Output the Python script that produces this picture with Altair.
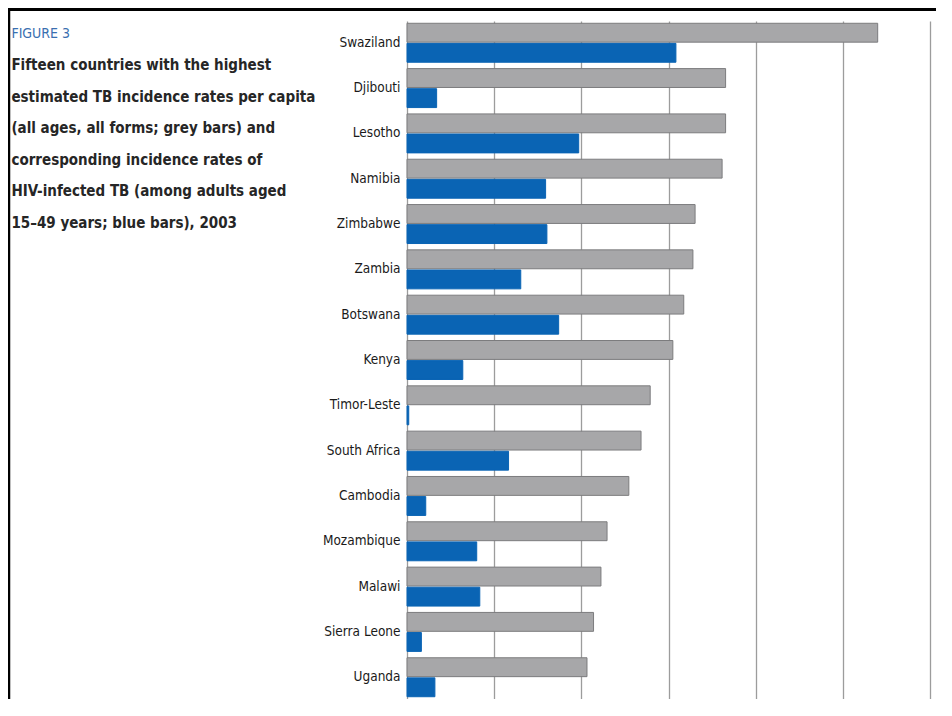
import altair as alt
import pandas as pd

countries = ["Swaziland", "Djibouti", "Lesotho", "Namibia", "Zimbabwe", "Zambia",
             "Botswana", "Kenya", "Timor-Leste", "South Africa", "Cambodia",
             "Mozambique", "Malawi", "Sierra Leone", "Uganda"]
tb_all = [1080, 731, 731, 723, 661, 656, 635, 610, 558, 537, 509, 459, 445, 428, 413]
tb_hiv = [617, 68, 394, 318, 321, 261, 348, 128, 4, 233, 43, 160, 167, 33, 64]
series = ["All forms (grey bars)", "HIV-infected (blue bars)"]
x_ticks = [0, 200, 400, 600, 800, 1000, 1200]

figure_label = "FIGURE 3"
desc_lines = [
    "Fifteen countries with the highest",
    "estimated TB incidence rates per capita",
    "(all ages, all forms; grey bars) and",
    "corresponding incidence rates of",
    "HIV-infected TB (among adults aged",
    "15\u201349 years; blue bars), 2003",
]

rows = []
for c, a, h in zip(countries, tb_all, tb_hiv):
    rows.append({"country": c, "series": series[0], "rate": a})
    rows.append({"country": c, "series": series[1], "rate": h})
df = pd.DataFrame(rows)
one = pd.DataFrame({"k": [0]})

FONT = "DejaVu Sans Condensed, Liberation Sans Narrow, Liberation Sans, sans-serif"

bars = alt.Chart(df).mark_bar(strokeWidth=1).encode(
    x=alt.X("rate:Q",
            scale=alt.Scale(domain=[0, 1200], nice=False, zero=True),
            axis=alt.Axis(values=x_ticks, labels=False, ticks=False, domain=False,
                          grid=True, gridColor="#9c9c9c", gridWidth=1.3, title=None)),
    y=alt.Y("country:N", sort=countries,
            scale=alt.Scale(paddingInner=0.14, paddingOuter=0.05),
            axis=alt.Axis(title=None, domain=False, ticks=False, labelPadding=7,
                          labelFont=FONT, labelFontSize=13.5, labelColor="#1a1a1a")),
    yOffset=alt.YOffset("series:N", sort=series, scale=alt.Scale(paddingInner=0.06)),
    color=alt.Color("series:N", sort=series,
                    scale=alt.Scale(domain=series, range=["#a7a7a9", "#0a64b4"]),
                    legend=None),
    stroke=alt.Stroke("series:N",
                      scale=alt.Scale(domain=series, range=["#7c7c7e", "#0a64b4"]),
                      legend=None),
)

fig = alt.Chart(one).mark_text(
    text=figure_label, font=FONT, fontSize=14, color="#3a6fb0",
    align="left", baseline="alphabetic"
).encode(x=alt.value(-395.6), y=alt.value(16.7))

desc = alt.Chart(one).mark_text(
    text=desc_lines, font=FONT, fontSize=15, fontWeight="bold", color="#262626",
    align="left", baseline="alphabetic", lineHeight=31.5
).encode(x=alt.value(-395.6), y=alt.value(49))

left_border = alt.Chart(one).mark_rule(color="black", strokeWidth=2.5).encode(
    x=alt.value(-398), y=alt.value(-13), y2=alt.value(678))
top_border = alt.Chart(one).mark_rule(color="black", strokeWidth=3).encode(
    x=alt.value(-399.3), x2=alt.value(529), y=alt.value(-11.5))

chart = alt.layer(bars, fig, desc, left_border, top_border).properties(
    width=523, height=678,
    autosize=alt.AutoSizeParams(type="none"),
    padding={"left": 399, "top": 13, "right": 6, "bottom": 0},
).configure_view(strokeWidth=0)

chart.save("out.html", embed_options={"renderer": "svg", "actions": False})
